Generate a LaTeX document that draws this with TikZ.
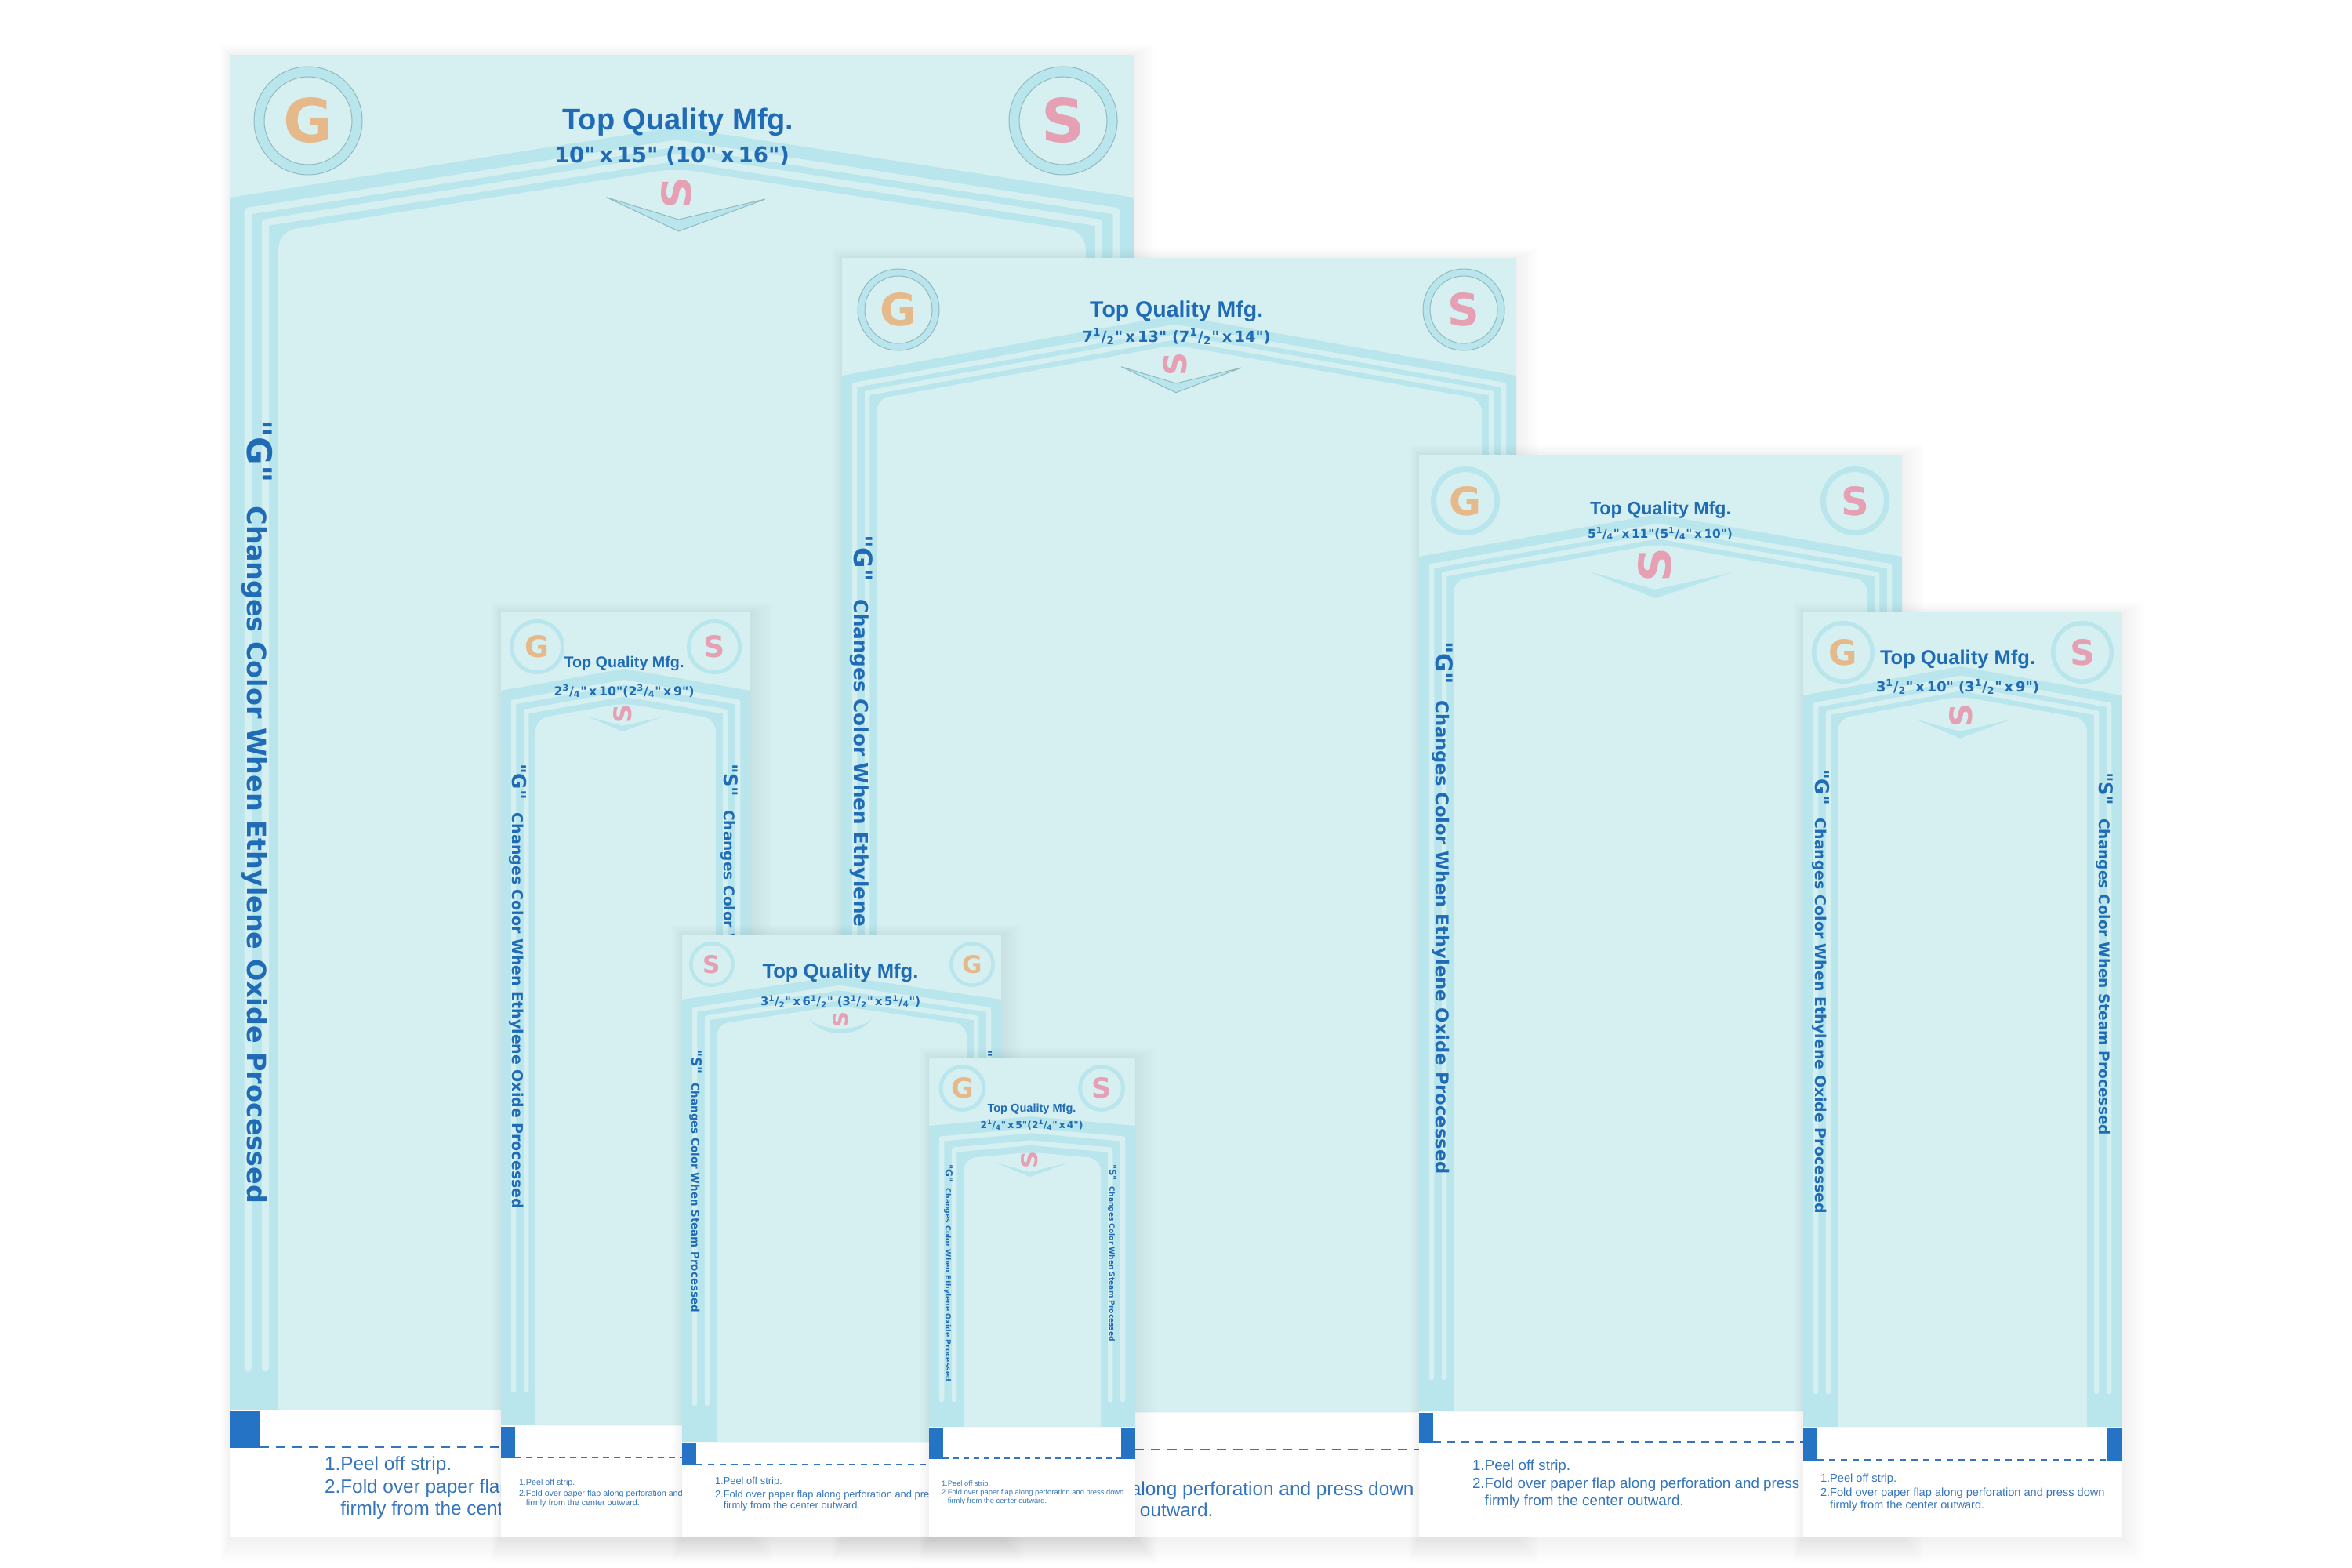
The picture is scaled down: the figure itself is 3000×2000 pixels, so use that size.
\documentclass[tikz,border=0pt]{standalone}
\usepackage{fontspec}
\setmainfont{Liberation Sans}
\newfontfamily\signfont{DejaVu Sans}
\definecolor{cardbg}{HTML}{D6F0F1}
\definecolor{bandblue}{HTML}{B9E5EC}
\definecolor{inkblue}{HTML}{1F6BB5}
\definecolor{tabblue}{HTML}{2473C5}
\definecolor{howblue}{HTML}{3575BC}
\definecolor{peach}{HTML}{E6B98A}
\definecolor{rose}{HTML}{E6A0B3}
\definecolor{edgegrey}{HTML}{93B9BF}
\newlength\pxu
\setlength\pxu{0.01cm}
\tikzset{
  plainedge/.style={draw=none},
  greyedge/.style={draw=edgegrey,line width=1\pxu},
  stripe/.style={draw=cardbg,line cap=round,line join=round},
  inktext/.style={text=inkblue,inner sep=0pt,outer sep=0pt},
  howtext/.style={text=howblue,inner sep=0pt,outer sep=0pt,anchor=base west}
}
\def\tabw{18}
\def\perfp{15}
\def\dk{1}
\newcommand{\inch}{{\itshape"}}
\newcommand{\frc}[2]{\textsuperscript{#1}/\textsubscript{#2}}
\newcommand{\mrk}[1]{\scalebox{1.3}{"#1\inch}\hspace{0.9em}}
% left, right, top, shoulder y, apex y, panel bottom, perforation y, stripe end, band scale
\newcommand{\pouchcard}[9]{
  \pgfmathsetmacro{\ax}{(#1+#2)/2-0.0065*(#2-#1)}
  \pgfmathsetmacro{\ml}{(#4-#5)/(\ax-#1)}
  \pgfmathsetmacro{\mr}{(#4-#5)/(#2-\ax)}
  \foreach \g in {1,...,14}
    \fill[black,opacity=0.004] (#1-\g*0.9,#3-\g*0.9) rectangle (#2+\g*2,1960+\g*2.4);
  \fill[cardbg] (#1,#3) rectangle (#2,#6);
  \fill[white] (#1,#6) rectangle (#2,1960);
  \fill[bandblue] (#1,#6) -- (#1,#4) -- (\ax,#5) -- (#2,#4) -- (#2,#6) -- cycle;
  \foreach \ox/\dy in {16/15,32/28} {
    \pgfmathsetmacro{\xa}{#1+\ox*#9}
    \pgfmathsetmacro{\xb}{#2-\ox*#9}
    \pgfmathsetmacro{\ay}{#5+\dy*#9*\dk}
    \pgfmathsetmacro{\yl}{\ay+(\ax-\xa)*\ml}
    \pgfmathsetmacro{\yr}{\ay+(\xb-\ax)*\mr}
    \draw[stripe,line width={6.5*#9*\pxu}] (\xa,#8) -- (\xa,\yl) -- (\ax,\ay) -- (\xb,\yr) -- (\xb,#8);
  }
  \pgfmathsetmacro{\xa}{#1+44*#9}
  \pgfmathsetmacro{\xb}{#2-44*#9}
  \pgfmathsetmacro{\ay}{#5+38*#9*\dk}
  \pgfmathsetmacro{\yl}{\ay+(\ax-\xa)*\ml}
  \pgfmathsetmacro{\yr}{\ay+(\xb-\ax)*\mr}
  \pgfmathsetmacro{\rr}{16*#9}
  \fill[cardbg] (\xa,#6) [rounded corners=\rr\pxu] -- (\xa,\yl) -- (\ax,\ay) -- (\xb,\yr) [sharp corners] -- (\xb,#6) -- cycle;
  \fill[tabblue] (#1,#6+2) rectangle (#1+\tabw,#7+1);
  \fill[tabblue] (#2-\tabw,#6+2) rectangle (#2,#7+1);
  \pgfmathsetmacro{\dnp}{0.55*\perfp}
  \pgfmathsetmacro{\dgp}{0.45*\perfp}
  \draw[howblue,line width=2.8\pxu,dash pattern=on \dnp\pxu off \dgp\pxu] (#1+\tabw,#7) -- (#2-\tabw,#7);
}
\newcommand{\sealring}[9][plainedge]{
  \pgfmathsetmacro{\rin}{#5-#6}
  \pgfmathsetmacro{\rmid}{#5-#6/2}
  \draw[bandblue,line width=#6\pxu] (#3,#4) circle (\rmid\pxu);
  \path[#1] (#3,#4) circle (#5\pxu) (#3,#4) circle (\rin\pxu);
  \node[inner sep=0pt,text=#8] (#2) at (#3,#4) {\resizebox{!}{#9\pxu}{\signfont\bfseries #7}};
}
\newcommand{\toptitle}[4]{
  \node[inktext,anchor=base] (#1) at (#2,#3) {\resizebox{#4\pxu}{!}{\bfseries Top Quality Mfg.}};
}
\newcommand{\sizeline}[5]{
  \node[inktext,anchor=base] (#1) at (#2,#3) {\resizebox{#4\pxu}{!}{\signfont\bfseries #5}};
}
\newcommand{\sidelabel}[5]{
  \node[inktext,anchor=base west,rotate=-90] (#1) at (#2,#3) {\resizebox{#4\pxu}{!}{\signfont\bfseries #5}};
}
\newcommand{\vmark}[8][plainedge]{
  \path[fill=bandblue,#1] (#2,#3) -- (#6,#7) -- (#4,#5) -- (#6,#8) -- cycle;
}
\newcommand{\sideS}[5]{
  \node[inner sep=0pt,text=rose,rotate=90] (#1) at (#2,#3) {\resizebox{#4\pxu}{#5\pxu}{\signfont\bfseries S}};
}
\newcommand{\howto}[6]{
  \node[howtext,font=\fontsize{#6}{#6}\selectfont] (#1a) at (#2,#3) {1.Peel off strip.};
  \node[howtext,font=\fontsize{#6}{#6}\selectfont] (#1b) at (#2,#4) {2.Fold over paper flap along perforation and press down};
  \node[howtext,font=\fontsize{#6}{#6}\selectfont] (#1c) at (#2,#5) {\hspace*{0.834em}firmly from the center outward.};
}
\begin{document}
\begin{tikzpicture}[x=0.01cm,y=-0.01cm]
  \useasboundingbox (0,0) rectangle (3000,2000);
  \fill[white] (0,0) rectangle (3000,2000);

  \def\tabw{37}\def\perfp{21}
  \pouchcard{294}{1446}{70}{252}{162}{1798}{1846}{1745}{1.39}
  \sealring[greyedge]{aG}{393}{154}{69}{13}{G}{peach}{57}
  \sealring[greyedge]{aS}{1356}{154}{69}{13}{S}{rose}{57}
  \toptitle{atitle}{865}{166}{295}
  \sizeline{asize}{857}{207.6}{300}{10\inch\,x\,15\inch\ (10\inch\,x\,16\inch)}
  \vmark[greyedge]{773.6}{251.7}{976}{254}{865.5}{295}{280}
  \sideS{amark}{863}{246}{41}{38}
  \sidelabel{aside}{315}{535}{1000}{\mrk{G}Changes Color When Ethylene Oxide Processed}
  \howto{ahow}{414}{1875}{1904}{1932}{6.93}

  \pouchcard{1074}{1934}{329}{479}{402}{1801}{1849}{1750}{1}
  \sealring[greyedge]{bG}{1146}{395}{52}{9}{G}{peach}{42}
  \sealring[greyedge]{bS}{1867}{395}{52}{9}{S}{rose}{42}
  \toptitle{btitle}{1500.7}{404}{221}
  \sizeline{bsize}{1500.6}{436}{240}{7\frc{1}{2}\inch\,x\,13\inch\ (7\frc{1}{2}\inch\,x\,14\inch)}
  \vmark[greyedge]{1430}{467.7}{1583.5}{469}{1500}{500.7}{489}
  \sideS{bmark}{1499}{464}{30}{29.5}
  \sidelabel{bside}{1089}{682}{740}{\mrk{G}Changes Color When Ethylene Oxide Processed}
  \howto{bhow}{1198}{1876}{1907}{1934}{6.93}

  \def\tabw{18}\def\perfp{18}
  \pouchcard{1810}{2426}{580}{710}{656}{1800}{1839}{1757}{1}
  \sealring{cG}{1869}{639}{44}{7}{G}{peach}{37}
  \sealring{cS}{2366}{639}{44}{7}{S}{rose}{37}
  \toptitle{ctitle}{2118}{656}{180}
  \sizeline{csize}{2117.5}{686}{185}{5\frc{1}{4}\inch\,x\,11\inch(5\frc{1}{4}\inch\,x\,10\inch)}
  \vmark{2026.5}{729}{2210}{730}{2111}{763}{752}
  \sideS{cmark}{2111}{720.7}{44}{42}
  \sidelabel{cside}{1831}{818}{680}{\mrk{G}Changes Color When Ethylene Oxide Processed}
  \howto{chow}{1878}{1875}{1898}{1920}{5.35}

  \def\perfp{15}
  \pouchcard{2300}{2706}{781}{887}{850}{1820}{1862}{1775}{1}
  \sealring{dG}{2351}{832}{40}{5.5}{G}{peach}{33}
  \sealring{dS}{2656}{832}{40}{5.5}{S}{rose}{33}
  \toptitle{dtitle}{2497}{847}{198}
  \sizeline{dsize}{2497}{882}{208}{3\frc{1}{2}\inch\,x\,10\inch\ (3\frc{1}{2}\inch\,x\,9\inch)}
  \vmark{2444}{917.7}{2564}{918}{2500}{941.7}{933}
  \sideS{dmark}{2501}{912.7}{30}{29}
  \sidelabel{dleft}{2315}{981}{567}{\mrk{G}Changes Color When Ethylene Oxide Processed}
  \sidelabel{dright}{2677}{985}{463}{\mrk{S}Changes Color When Steam Processed}
  \howto{dhow}{2322}{1890}{1908}{1924}{4.15}

  \def\perfp{14}\def\dk{1.15}
  \pouchcard{639}{957}{781}{881}{853}{1818}{1859}{1773}{1}
  \sealring{eG}{685}{825}{35}{5}{G}{peach}{28}
  \sealring{eS}{911}{825}{35}{5}{S}{rose}{28}
  \toptitle{etitle}{796}{851}{153}
  \sizeline{esize}{796}{887}{179}{2\frc{3}{4}\inch\,x\,10\inch(2\frc{3}{4}\inch\,x\,9\inch)}
  \vmark{749.5}{914}{844.6}{914.6}{794}{933}{926}
  \sideS{emark}{794}{910}{24}{23}
  \sidelabel{eleft}{653}{974}{568}{\mrk{G}Changes Color When Ethylene Oxide Processed}
  \sidelabel{eright}{923}{974}{463}{\mrk{S}Changes Color When Steam Processed}
  \howto{ehow}{662}{1894}{1908}{1920}{3.05}

  \def\perfp{15}\def\dk{1}
  \pouchcard{870}{1277}{1192}{1275}{1245}{1839}{1868}{1790}{1}
  \sealring{fS}{908}{1230}{29}{4.5}{S}{rose}{23}
  \sealring{fG}{1240}{1230}{29}{4.5}{G}{peach}{23}
  \toptitle{ftitle}{1072}{1247}{199}
  \sizeline{fsize}{1072}{1282.5}{204}{3\frc{1}{2}\inch\,x\,6\frc{1}{2}\inch\ (3\frc{1}{2}\inch\,x\,5\frc{1}{4}\inch)}
  \fill[bandblue] (1032,1300) .. controls (1050,1324) and (1094,1324) .. (1112,1300) .. controls (1094,1316) and (1050,1316) .. cycle;
  \sideS{fmark}{1072}{1300}{20}{19}
  \sidelabel{fleft}{882}{1339}{335}{\mrk{S}Changes Color When Steam Processed}
  \sidelabel{fright}{1252}{1339}{410}{\mrk{G}Changes Color When Ethylene Oxide Processed}
  \howto{fhow}{912}{1893}{1910}{1924}{3.67}

  \def\perfp{13}\def\dk{1.2}
  \pouchcard{1185}{1448}{1349}{1436}{1424}{1820}{1860}{1785}{1}
  \sealring{gG}{1227.5}{1388}{30}{5}{G}{peach}{26}
  \sealring{gS}{1405}{1388}{30}{5}{S}{rose}{26}
  \toptitle{gtitle}{1316}{1418}{113}
  \sizeline{gsize}{1316}{1439}{131}{2\frc{1}{4}\inch\,x\,5\inch(2\frc{1}{4}\inch\,x\,4\inch)}
  \vmark{1268}{1482}{1363}{1483}{1313}{1501}{1495}
  \sideS{gmark}{1313}{1479}{22}{21}
  \sidelabel{gleft}{1206}{1485}{277}{\mrk{G}Changes Color When Ethylene Oxide Processed}
  \sidelabel{gright}{1415}{1485}{226}{\mrk{S}Changes Color When Steam Processed}
  \howto{ghow}{1201}{1895}{1906.5}{1917}{2.66}
\end{tikzpicture}
\end{document}
